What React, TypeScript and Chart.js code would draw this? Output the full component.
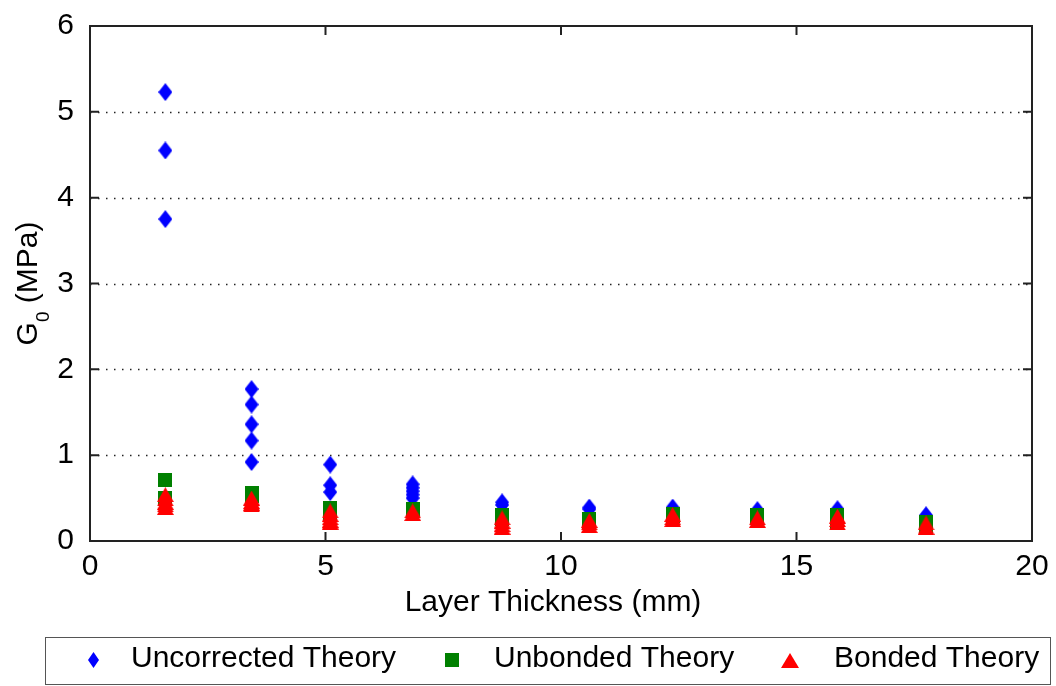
import React, { useEffect, useRef } from "react";
import { Chart, registerables } from "chart.js";

Chart.register(...registerables);

// ---- data ----
const thickness = [1.6, 3.43, 5.1, 6.85, 8.75, 10.6, 12.37, 14.17, 15.87, 17.75];
const uncorrected = [
  [5.23, 4.55, 3.75],
  [1.77, 1.59, 1.36, 1.17, 0.92],
  [0.89, 0.65, 0.57],
  [0.66, 0.62, 0.58, 0.54, 0.5],
  [0.45, 0.42],
  [0.39, 0.37],
  [0.39, 0.37],
  [0.36, 0.34],
  [0.37, 0.35],
  [0.3],
];
const unbonded = [
  [0.71, 0.5],
  [0.56, 0.52],
  [0.39, 0.33],
  [0.37, 0.35],
  [0.3, 0.26],
  [0.26, 0.22],
  [0.32, 0.29],
  [0.3, 0.27],
  [0.3, 0.25, 0.22],
  [0.22, 0.18],
];
const bonded = [
  [0.54, 0.49, 0.45, 0.42, 0.39],
  [0.5, 0.46, 0.44, 0.42],
  [0.35, 0.31, 0.27, 0.24, 0.22],
  [0.35, 0.32],
  [0.27, 0.23, 0.19, 0.16],
  [0.24, 0.21, 0.18],
  [0.31, 0.27, 0.25],
  [0.27, 0.24],
  [0.29, 0.25, 0.21],
  [0.21, 0.16],
];
const seriesLabels = ["Uncorrected Theory", "Unbonded Theory", "Bonded Theory"];
const xTicks = [0, 5, 10, 15, 20];
const yTicks = [0, 1, 2, 3, 4, 5, 6];
const gridLevels = [1, 2, 3, 4, 5];
const xTitle = "Layer Thickness (mm)";

const FONT = "'Liberation Sans', Arial, Helvetica, sans-serif";

const toPoints = (groups: number[][]) =>
  groups.flatMap((g, i) => g.map((v) => ({ x: thickness[i], y: v })));

function makeCanvas(w: number, h: number) {
  const c = document.createElement("canvas");
  c.width = w;
  c.height = h;
  return c;
}
function diamond(w: number, h: number, color: string) {
  const c = makeCanvas(w, h);
  const g = c.getContext("2d")!;
  g.fillStyle = color;
  g.beginPath();
  g.moveTo(w / 2, 0);
  g.lineTo(w, h / 2);
  g.lineTo(w / 2, h);
  g.lineTo(0, h / 2);
  g.closePath();
  g.fill();
  return c;
}
function square(w: number, h: number, color: string) {
  const c = makeCanvas(w, h);
  const g = c.getContext("2d")!;
  g.fillStyle = color;
  g.fillRect(0, 0, w, h);
  return c;
}
function triangle(w: number, h: number, color: string) {
  const c = makeCanvas(w, h);
  const g = c.getContext("2d")!;
  g.fillStyle = color;
  g.beginPath();
  g.moveTo(w / 2, 0);
  g.lineTo(w, h);
  g.lineTo(0, h);
  g.closePath();
  g.fill();
  return c;
}

export default function App() {
  const ref = useRef<HTMLCanvasElement | null>(null);

  useEffect(() => {
    document.body.style.margin = "0";
    const canvas = ref.current!;
    const blueM = diamond(14, 18, "#0000ff");
    const greenM = square(14, 14, "#008000");
    const redM = triangle(17, 15, "#ff0000");
    const legendMarkers = [
      diamond(11, 16, "#0000ff"),
      square(14, 14, "#008000"),
      triangle(18, 15, "#ff0000"),
    ];

    const framePlugin = {
      id: "frame",
      beforeDatasetsDraw(chart: any) {
        const { ctx, chartArea: a, scales } = chart;
        ctx.save();
        ctx.strokeStyle = "#222";
        ctx.lineWidth = 1.5;
        ctx.setLineDash([1.5, 6.5]);
        gridLevels.forEach((v) => {
          const y = Math.round(scales.y.getPixelForValue(v)) + 0.5;
          ctx.beginPath();
          ctx.moveTo(a.left, y);
          ctx.lineTo(a.right, y);
          ctx.stroke();
        });
        ctx.restore();
      },
      afterDatasetsDraw(chart: any) {
        const { ctx, chartArea: a, scales } = chart;
        ctx.save();
        ctx.strokeStyle = "#222";
        ctx.lineWidth = 2;
        ctx.setLineDash([]);
        ctx.strokeRect(a.left, a.top, a.right - a.left, a.bottom - a.top);
        const tl = 9;
        ctx.beginPath();
        yTicks.forEach((v) => {
          const y = scales.y.getPixelForValue(v);
          ctx.moveTo(a.left, y);
          ctx.lineTo(a.left + tl, y);
          ctx.moveTo(a.right, y);
          ctx.lineTo(a.right - tl, y);
        });
        xTicks.forEach((v) => {
          const x = scales.x.getPixelForValue(v);
          ctx.moveTo(x, a.bottom);
          ctx.lineTo(x, a.bottom - tl);
          ctx.moveTo(x, a.top);
          ctx.lineTo(x, a.top + tl);
        });
        ctx.stroke();
        ctx.restore();
      },
      afterDraw(chart: any) {
        const { ctx, chartArea: a } = chart;
        ctx.save();
        ctx.fillStyle = "#000";
        // x title
        ctx.font = `30px ${FONT}`;
        ctx.textAlign = "center";
        ctx.textBaseline = "alphabetic";
        ctx.fillText(xTitle, (a.left + a.right) / 2 - 8, 611);
        // y title with subscript
        ctx.save();
        ctx.translate(37, (a.top + a.bottom) / 2);
        ctx.rotate(-Math.PI / 2);
        ctx.textAlign = "left";
        ctx.font = `30px ${FONT}`;
        const wG = ctx.measureText("G").width;
        const wRest = ctx.measureText(" (MPa)").width;
        ctx.font = `19px ${FONT}`;
        const wSub = ctx.measureText("0").width;
        const total = wG + wSub + wRest;
        let px = -total / 2;
        ctx.font = `30px ${FONT}`;
        ctx.fillText("G", px, 0);
        px += wG;
        ctx.font = `19px ${FONT}`;
        ctx.fillText("0", px, 12);
        px += wSub;
        ctx.font = `30px ${FONT}`;
        ctx.fillText(" (MPa)", px, 0);
        ctx.restore();

        // legend
        ctx.strokeStyle = "#555";
        ctx.lineWidth = 1;
        ctx.strokeRect(45.5, 637.5, 1005, 47);
        const markerX = [93, 452, 790];
        const textX = [131, 494, 834];
        const cy = 660;
        ctx.font = `30px ${FONT}`;
        ctx.textAlign = "left";
        ctx.textBaseline = "alphabetic";
        seriesLabels.forEach((lab, i) => {
          const m = legendMarkers[i];
          ctx.drawImage(m, Math.round(markerX[i] - m.width / 2), Math.round(cy - m.height / 2));
          ctx.fillText(lab, textX[i], 667);
        });
        ctx.restore();
      },
    };

    const tickFont = { family: FONT, size: 30 };

    const chart = new Chart(canvas, {
      type: "scatter",
      data: {
        datasets: [
          {
            label: seriesLabels[0],
            data: toPoints(uncorrected),
            pointStyle: blueM as any,
            order: 3,
          },
          {
            label: seriesLabels[1],
            data: toPoints(unbonded),
            pointStyle: greenM as any,
            order: 2,
          },
          {
            label: seriesLabels[2],
            data: toPoints(bonded),
            pointStyle: redM as any,
            order: 1,
          },
        ],
      },
      options: {
        responsive: false,
        animation: false,
        layout: { padding: { left: 0, top: 22, right: 24, bottom: 0 } },
        plugins: { legend: { display: false }, tooltip: { enabled: false } },
        scales: {
          x: {
            type: "linear",
            min: 0,
            max: 20,
            grid: { display: false },
            border: { display: false },
            ticks: { font: tickFont, color: "#000", padding: 0, maxRotation: 0 },
            afterBuildTicks: (s: any) => {
              s.ticks = xTicks.map((v) => ({ value: v }));
            },
            afterFit: (s: any) => {
              s.height = 145;
            },
          },
          y: {
            type: "linear",
            min: 0,
            max: 6,
            grid: { display: false },
            border: { display: false },
            ticks: { font: tickFont, color: "#000", padding: 8 },
            afterBuildTicks: (s: any) => {
              s.ticks = yTicks.map((v) => ({ value: v }));
            },
            afterFit: (s: any) => {
              s.width = 90;
            },
          },
        },
      },
      plugins: [framePlugin],
    });
    return () => chart.destroy();
  }, []);

  return (
    <div style={{ width: 1056, height: 686, background: "#fff" }}>
      <canvas ref={ref} width={1056} height={686} style={{ display: "block" }} />
    </div>
  );
}
